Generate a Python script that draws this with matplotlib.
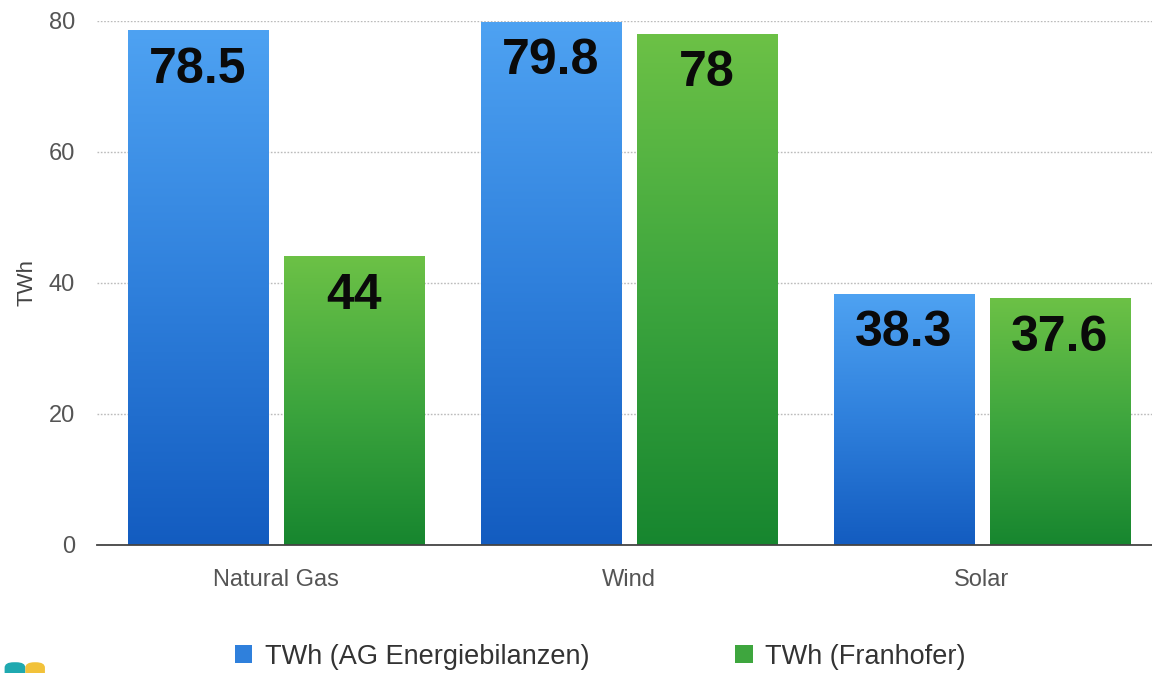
import matplotlib
matplotlib.use("Agg")
import matplotlib.pyplot as plt
import numpy as np
from matplotlib.colors import LinearSegmentedColormap
from matplotlib.patches import Patch, FancyBboxPatch

categories = ["Natural Gas", "Wind", "Solar"]
series_names = ["TWh (AG Energiebilanzen)", "TWh (Franhofer)"]
ag_values = [78.5, 79.8, 38.3]
fh_values = [44, 78, 37.6]
value_labels_ag = ["78.5", "79.8", "38.3"]
value_labels_fh = ["44", "78", "37.6"]
yticks = [0, 20, 40, 60, 80]

plt.rcParams['font.family'] = ['Liberation Sans', 'DejaVu Sans']

fig = plt.figure(figsize=(11.52, 6.73), dpi=100)
ax = fig.add_axes([0.0842, 0.1902, 1.0 - 0.0842, 0.9688 - 0.1902])

x = np.arange(len(categories))
width = 0.397
off = 0.221

cmaps = [
    LinearSegmentedColormap.from_list("b", ["#135cc0", "#2f80dc", "#4ea2f2"]),
    LinearSegmentedColormap.from_list("g", ["#17862f", "#3ea63e", "#6cc146"]),
]
mid_colors = ["#2f80dc", "#3ea63e"]

grad = np.linspace(0, 1, 256).reshape(-1, 1)
for i, (vals, labels) in enumerate([(ag_values, value_labels_ag), (fh_values, value_labels_fh)]):
    pos = x + (-off if i == 0 else off)
    bars = ax.bar(pos, vals, width, color="none", edgecolor="none", zorder=2)
    for b, lab in zip(bars, labels):
        x0, y0 = b.get_x(), b.get_y()
        w, h = b.get_width(), b.get_height()
        ax.imshow(grad, cmap=cmaps[i], origin="lower", aspect="auto",
                  extent=[x0, x0 + w, y0, y0 + h], zorder=2, interpolation="bilinear")
        ax.annotate(lab, (x0 + w / 2, y0 + h), xytext=(0, -39), textcoords="offset pixels",
                    ha="center", va="center", fontsize=36, fontweight="bold",
                    color="#0a0a0a", zorder=3)

ax.set_xlim(-0.507, 2.482)
ax.set_ylim(0, 80)
ax.set_yticks(yticks)
ax.set_xticks(x)
ax.set_xticklabels(categories)
ax.tick_params(axis="both", length=0, labelsize=17, colors="#555555")
ax.tick_params(axis="x", pad=17)
ax.tick_params(axis="y", pad=16)
ax.set_ylabel("TWh", fontsize=16, color="#444444", labelpad=8)

for s in ["top", "right", "left"]:
    ax.spines[s].set_visible(False)
ax.spines["bottom"].set_color("#444444")
ax.spines["bottom"].set_linewidth(1.3)
ax.spines["bottom"].set_zorder(4)

ax.yaxis.grid(True, linestyle=(0, (1.2, 1.2)), color="#bbbbbb", linewidth=1.0, zorder=0)
ax.set_axisbelow(True)

handles = [Patch(facecolor=mid_colors[0], edgecolor="none"),
           Patch(facecolor=mid_colors[1], edgecolor="none")]
fig.legend(handles, series_names, loc="center", bbox_to_anchor=(0.521, 0.024),
           ncol=2, frameon=False, fontsize=19.5, handlelength=0.65, handleheight=0.65,
           columnspacing=5.4, handletextpad=0.45, labelcolor="#333333")

# partial logo fragment at bottom-left corner
fig.patches.append(FancyBboxPatch((0.004, -0.012), 0.018, 0.028, boxstyle="round,pad=0.0,rounding_size=0.008",
                                  transform=fig.transFigure, facecolor="#1fa9b0", edgecolor="none"))
fig.patches.append(FancyBboxPatch((0.022, -0.012), 0.017, 0.028, boxstyle="round,pad=0.0,rounding_size=0.008",
                                  transform=fig.transFigure, facecolor="#f2c23a", edgecolor="none"))

fig.savefig("out.png", dpi=100)
